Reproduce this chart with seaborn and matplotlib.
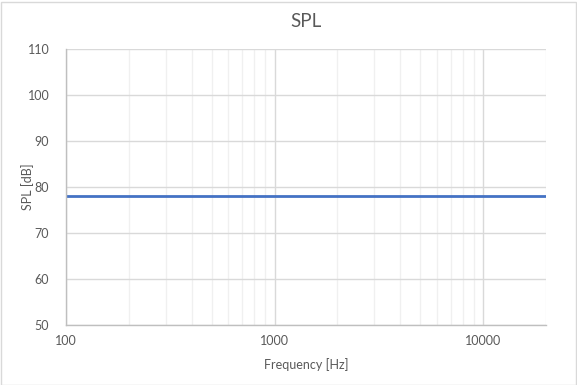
import matplotlib
matplotlib.use("Agg")
import matplotlib.pyplot as plt
import matplotlib.ticker as mticker
from matplotlib.patches import Rectangle
import seaborn as sns
import pandas as pd

# data
freq_hz = [100, 200, 500, 1000, 2000, 5000, 10000, 20000]
spl_db = [78, 78, 78, 78, 78, 78, 78, 78]
x_ticks = [100, 1000, 10000]
y_ticks = [50, 60, 70, 80, 90, 100, 110]

sns.set_theme(style="white")
plt.rcParams["font.family"] = ["Lato", "DejaVu Sans"]

TEXT = "#595959"
df = pd.DataFrame({"freq": freq_hz, "spl": spl_db})

fig = plt.figure(figsize=(5.77, 3.85), dpi=100)
ax = fig.add_axes([66 / 577, 1 - 325 / 385, 480 / 577, 276 / 385])

sns.lineplot(data=df, x="freq", y="spl", ax=ax, color="#4472C4", linewidth=2)

ax.set_xscale("log")
ax.set_xlim(100, 20000)
ax.set_ylim(50, 110)
ax.set_yticks(y_ticks)
ax.xaxis.set_major_locator(mticker.FixedLocator(x_ticks))
ax.xaxis.set_major_formatter(mticker.FuncFormatter(lambda x, _: f"{x:.0f}"))
ax.xaxis.set_minor_locator(mticker.LogLocator(base=10, subs=range(2, 10), numticks=20))
ax.xaxis.set_minor_formatter(mticker.NullFormatter())

ax.grid(True, which="major", color="#d9d9d9", linewidth=1)
ax.grid(True, which="minor", axis="x", color="#f0f0f0", linewidth=1)
ax.set_axisbelow(True)

for side in ["top", "right"]:
    ax.spines[side].set_visible(False)
for side in ["left", "bottom"]:
    ax.spines[side].set_color("#bfbfbf")
    ax.spines[side].set_linewidth(1)

ax.tick_params(axis="both", which="both", length=0, labelsize=9, labelcolor=TEXT)
ax.tick_params(axis="x", pad=7)
ax.tick_params(axis="y", pad=12)

ax.set_title("SPL", fontsize=13.5, color=TEXT, pad=16)
ax.set_xlabel("Frequency [Hz]", fontsize=9, color=TEXT, labelpad=8)
ax.set_ylabel("SPL [dB]", fontsize=9, color=TEXT, labelpad=-5)

# chart border like the original
fig.patches.append(Rectangle((0.5 / 577, 0.5 / 385), 575 / 577, 383 / 385,
                             transform=fig.transFigure, fill=False,
                             edgecolor="#d9d9d9", linewidth=1))

fig.savefig("out.png", dpi=100)
